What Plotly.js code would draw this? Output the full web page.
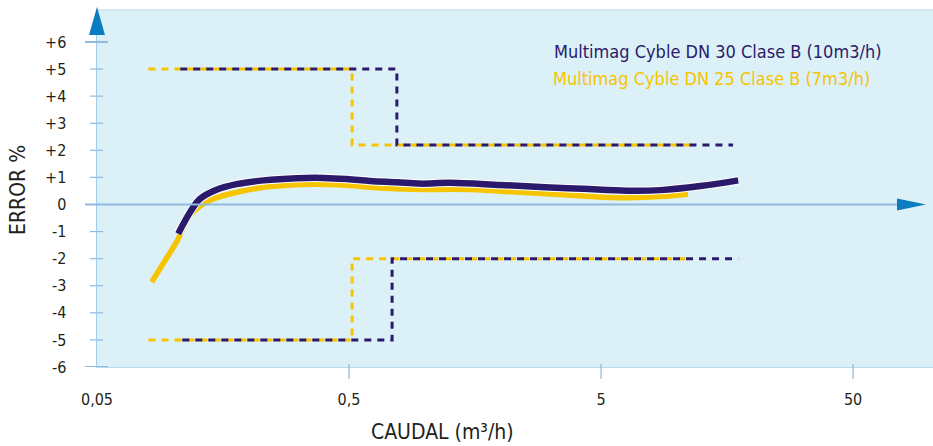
<!DOCTYPE html>
<html>
<head>
<meta charset="utf-8">
<script src="https://cdn.plot.ly/plotly-3.0.1.min.js"></script>
<style>html,body{margin:0;padding:0;background:#fff;}#chart{width:933px;height:446px;}</style>
</head>
<body>
<div id="chart"></div>
<script>
// ---- Data ----
const xTickVals = [0.05, 0.5, 5, 50];
const xTickText = ['0,05', '0,5', '5', '50'];
const yTickVals = [6, 5, 4, 3, 2, 1, 0, -1, -2, -3, -4, -5, -6];
const yTickText = ['+6', '+5', '+4', '+3', '+2', '+1', '0', '-1', '-2', '-3', '-4', '-5', '-6'];

const seriesNames = ['Multimag Cyble DN 30 Clase B (10m3/h)', 'Multimag Cyble DN 25 Clase B (7m3/h)'];

// DN 30 measured curve
const dn30Flow  = [0.105, 0.117, 0.128, 0.149, 0.179, 0.229, 0.31, 0.395, 0.49, 0.606, 0.773, 0.957, 1.26, 1.99, 3.14, 4.24, 6.34, 8.58, 12.4, 17.5];
const dn30Error = [-1.08, -0.29, 0.20, 0.54, 0.75, 0.89, 0.97, 0.98, 0.94, 0.87, 0.82, 0.77, 0.80, 0.72, 0.63, 0.58, 0.51, 0.53, 0.68, 0.89];
// DN 25 measured curve
const dn25Flow  = [0.0824, 0.0917, 0.1036, 0.117, 0.132, 0.149, 0.185, 0.243, 0.361, 0.49, 0.664, 0.90, 1.51, 2.39, 3.14, 4.24, 6.34, 8.58, 11.07];
const dn25Error = [-2.86, -2.17, -1.37, -0.41, 0.02, 0.25, 0.48, 0.66, 0.75, 0.71, 0.61, 0.56, 0.55, 0.45, 0.39, 0.31, 0.25, 0.29, 0.39];

// Limit envelopes
const dn30UpFlow = [0.107, 0.774, 0.774, 16.7];
const dn30UpErr  = [5, 5, 2.2, 2.2];
const dn30LoFlow = [0.109, 0.741, 0.741, 17.5];
const dn30LoErr  = [-5, -5, -2, -2];
const dn25UpFlow = [0.080, 0.514, 0.514, 11.3];
const dn25UpErr  = [5, 5, 2.2, 2.2];
const dn25LoFlow = [0.080, 0.514, 0.514, 11.3];
const dn25LoErr  = [-5, -5, -2, -2];

// ---- Style ----
const NAVY = '#2b1a6c';
const YELLOW = '#f7c400';
const FONT = "'DejaVu Sans Condensed', 'Liberation Sans', sans-serif";
const TXT = '#231f20';
const AXC = '#8fb9df';

const W = 933, H = 446, ML = 97, MR = 0, MT = 10, MB = 79;
const PW = W - ML - MR, PH = H - MT - MB;
const px = v => (v - ML) / PW;      // pixel x -> paper
const py = v => (H - MB - v) / PH;  // pixel y -> paper

const dashLine = (x, y, c) => ({x: x, y: y, mode: 'lines', type: 'scatter', hoverinfo: 'skip',
  line: {color: c, width: 3, dash: '7px,6px'}});

const traces = [
  dashLine(dn25UpFlow, dn25UpErr, YELLOW),
  dashLine(dn25LoFlow, dn25LoErr, YELLOW),
  dashLine(dn30UpFlow, dn30UpErr, NAVY),
  dashLine(dn30LoFlow, dn30LoErr, NAVY),
  {x: dn25Flow, y: dn25Error, mode: 'lines', type: 'scatter', name: seriesNames[1],
   line: {color: YELLOW, width: 5.5, shape: 'spline', smoothing: 1}},
  {x: dn30Flow, y: dn30Error, mode: 'lines', type: 'scatter', hoverinfo: 'skip',
   line: {color: '#ffffff', width: 8.5, shape: 'spline', smoothing: 1}},
  {x: dn30Flow, y: dn30Error, mode: 'lines', type: 'scatter', name: seriesNames[0],
   line: {color: NAVY, width: 6.5, shape: 'spline', smoothing: 1}}
];

const shapes = [];
// top border
shapes.push({type: 'line', xref: 'paper', yref: 'paper', x0: 0, x1: 1, y0: 1, y1: 1, line: {color: '#b9dbee', width: 1}});
// zero line
shapes.push({type: 'line', xref: 'paper', yref: 'y', x0: px(85), x1: px(897), y0: 0, y1: 0, line: {color: AXC, width: 2}});
// y tick marks
yTickVals.forEach(v => {
  if (v === 0) return;
  const big = Math.abs(v) === 6;
  shapes.push({type: 'line', xref: 'paper', yref: 'y', x0: px(big ? 85 : 90), x1: px(big ? 108 : 103), y0: v, y1: v,
    line: {color: AXC, width: big ? 2 : 1.2}});
});
// x tick marks
xTickVals.forEach((v, i) => {
  if (i === 0) return;
  shapes.push({type: 'line', xref: 'x', yref: 'paper', x0: v, x1: v, y0: py(379), y1: py(364), line: {color: AXC, width: 1.2}});
});
// y arrow
shapes.push({type: 'path', xref: 'paper', yref: 'paper', fillcolor: '#0a7dc2', line: {width: 0},
  path: `M ${px(97)},${py(7)} L ${px(105)},${py(35)} L ${px(89)},${py(35)} Z`});
// x arrow
const ah = 6 / (PH / 13.18);
shapes.push({type: 'path', xref: 'paper', yref: 'y', fillcolor: '#0a7dc2', line: {width: 0},
  path: `M ${px(897)},${ah} L ${px(926)},0 L ${px(897)},${-ah} Z`});

const annotations = [
  {text: seriesNames[0], xref: 'paper', yref: 'paper', x: px(552), y: py(51), xanchor: 'left', yanchor: 'middle',
   showarrow: false, font: {family: FONT, size: 18, color: NAVY}},
  {text: seriesNames[1], xref: 'paper', yref: 'paper', x: px(551), y: py(78), xanchor: 'left', yanchor: 'middle',
   showarrow: false, font: {family: FONT, size: 18, color: YELLOW}},
  {text: 'ERROR %', xref: 'paper', yref: 'paper', x: px(18), y: py(190), xanchor: 'center', yanchor: 'middle',
   textangle: -90, showarrow: false, font: {family: FONT, size: 21, color: TXT}},
  {text: 'CAUDAL (m³/h)', xref: 'paper', yref: 'paper', x: px(442), y: py(432), xanchor: 'center', yanchor: 'middle',
   showarrow: false, font: {family: FONT, size: 21, color: TXT}}
];

const layout = {
  width: W, height: H,
  margin: {l: ML, r: MR, t: MT, b: MB, pad: 0},
  paper_bgcolor: '#ffffff',
  plot_bgcolor: '#dcf0f8',
  showlegend: false,
  xaxis: {type: 'log', range: [Math.log10(0.05), 2.016], tickvals: xTickVals, ticktext: xTickText,
    showgrid: false, zeroline: false, showline: true, linecolor: '#b9dbee', linewidth: 1,
    ticks: '', ticklabelstandoff: 18, tickfont: {family: FONT, size: 16, color: TXT}},
  yaxis: {range: [-6, 7.18], tickvals: yTickVals, ticktext: yTickText,
    showgrid: false, zeroline: false, showline: true, linecolor: '#a3cbe8', linewidth: 1.5,
    ticks: '', ticklabelstandoff: 26, tickfont: {family: FONT, size: 16, color: TXT}},
  shapes: shapes,
  annotations: annotations
};

Plotly.newPlot('chart', traces, layout, {displayModeBar: false, staticPlot: true});
</script>
</body>
</html>
